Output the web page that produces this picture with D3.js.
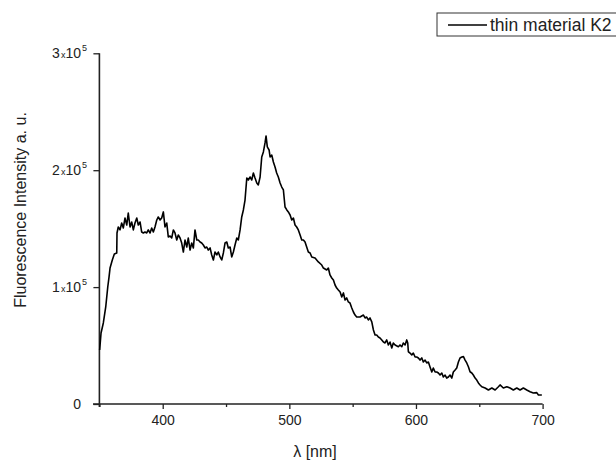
<!DOCTYPE html>
<html>
<head>
<meta charset="utf-8">
<script src="https://cdn.jsdelivr.net/npm/d3@7"></script>
<style>
body { margin: 0; background: #fff; }
svg { display: block; font-family: "Liberation Sans", Arial, sans-serif; }
</style>
</head>
<body>
<div class="chart"></div>
<script>
const WIDTH = 616;
const HEIGHT = 461;

const X0 = 99.4, X1 = 542.6;
const Y0 = 404, Y1 = 53.3;

// emission spectrum (wavelength in nm, intensity in 1e3 a.u.)
var wavelength = [350.2,351.3,353.1,355.0,356.6,357.6,358.4,360.2,361.8,363.7,
363.9,364.9,366.3,367.6,368.9,370.2,371.6,372.8,374.2,375.5,
376.8,378.1,379.5,380.7,382.1,383.4,384.7,386.0,387.4,388.6,
390.0,391.3,392.6,393.9,395.3,396.5,397.9,399.2,400.5,401.8,
403.2,404.4,405.8,407.1,408.4,409.7,411.1,412.3,413.7,415.0,
416.3,417.6,419.0,420.2,421.6,422.9,424.2,425.5,426.9,428.1,
429.5,430.8,432.1,433.4,434.8,436.0,437.4,438.7,440.0,441.3,
442.7,443.9,445.3,446.6,447.9,449.2,450.6,451.8,453.2,454.5,
455.8,457.1,458.5,459.7,461.1,462.4,463.7,465.0,466.4,467.6,
469.0,470.3,471.6,472.9,474.3,475.5,476.9,478.2,479.5,480.8,
481.6,482.6,484.0,484.8,486.1,487.4,488.7,490.0,491.3,492.7,
494.0,495.3,496.6,498.0,499.2,500.6,501.9,503.2,504.5,505.8,
507.1,508.5,509.8,511.1,512.4,513.7,515.0,516.4,517.7,520.3,
522.9,525.6,526.9,529.5,530.8,532.1,533.5,534.8,536.1,537.4,
538.7,540.1,541.4,542.7,544.0,545.3,546.6,547.9,549.3,550.6,
551.9,553.2,555.8,558.5,559.8,561.1,562.4,563.7,565.1,566.4,
567.7,569.0,570.3,571.6,573.0,574.3,575.6,576.9,578.2,579.5,
580.9,582.1,583.5,586.1,587.4,588.8,590.0,591.4,592.7,593.5,
594.0,595.3,596.7,597.9,599.3,600.6,601.9,603.2,604.6,605.8,
607.2,608.5,609.8,611.1,612.5,613.7,615.1,616.4,617.7,619.0,
620.4,621.6,623.0,624.3,625.6,626.9,628.3,629.5,630.9,632.2,
633.5,634.8,636.2,637.5,638.8,640.1,641.4,642.7,644.1,645.3,
646.7,648.0,649.3,650.6,652.0,654.6,657.2,659.9,662.5,665.1,
666.4,669.0,671.7,674.3,676.9,679.6,682.2,684.8,687.5,690.1,
692.7,695.4,696.7,699.4];

var intensityK = [46.2,60.7,69.3,83.0,100.1,108.6,116.3,123.2,128.3,129.2,
146.3,151.4,148.9,154.8,150.6,159.1,153.1,163.4,151.4,155.7,
148.9,154.8,159.1,153.1,155.7,147.1,146.3,147.1,146.3,148.9,
146.3,150.6,147.1,151.4,157.4,160.0,157.4,159.1,164.3,151.4,
154.8,142.9,143.7,142.0,148.9,146.3,140.3,144.6,142.0,137.7,
130.0,140.3,134.3,142.0,131.7,137.7,133.5,148.9,140.3,140.3,
138.6,137.7,136.0,133.5,134.3,131.7,133.5,127.5,123.2,130.0,
127.5,130.0,125.8,123.2,129.2,137.7,138.6,133.5,134.3,125.8,
130.0,136.0,142.0,140.3,148.9,160.0,166.0,174.5,193.3,191.6,
194.2,191.6,197.6,193.3,189.1,187.4,194.2,211.3,215.6,223.3,
229.3,219.9,217.3,211.3,213.0,207.0,202.8,197.6,194.2,189.1,
185.6,183.1,168.5,166.0,164.3,161.7,157.4,159.1,153.1,151.4,
148.9,144.6,140.3,140.3,138.6,134.3,130.0,129.2,125.8,124.9,
121.5,118.9,116.3,114.6,116.3,110.4,107.8,106.1,101.8,99.2,
97.5,95.8,91.5,95.0,89.0,90.7,87.3,86.4,82.1,78.7,
76.1,74.4,74.4,76.1,73.6,74.4,71.9,73.6,70.2,63.3,
59.0,59.0,57.3,56.5,54.8,53.0,52.2,54.8,50.5,53.0,
47.9,52.2,50.5,49.0,50.5,49.0,52.2,50.5,54.8,52.2,
44.7,43.6,41.9,43.6,40.2,40.2,39.4,37.6,39.4,35.9,
37.6,35.1,35.9,31.7,27.4,30.8,27.4,27.4,26.5,24.8,
26.5,23.1,24.8,22.2,23.1,24.8,22.2,27.4,29.1,30.8,
35.9,39.4,40.2,40.5,37.6,35.1,31.9,27.6,26.5,24.8,
22.2,20.5,18.0,16.3,14.8,13.7,12.0,13.7,12.0,14.8,
16.3,13.7,14.8,13.7,12.0,13.7,12.0,13.7,12.0,10.5,
9.4,9.7,7.7,7.7];

var xTicks = [400, 500, 600, 700];
var xMinorTicks = [350, 450, 550, 650];
var yTicks = [0, 100, 200, 300];
var yTickMantissa = ["0", "1", "2", "3"];
var seriesName = "thin material K2";

var translate = function (x, y) {
    return "translate(" + x + "," + y + ")";
};

var svg = d3.select('.chart').append('svg')
    .attr('width', WIDTH)
    .attr('height', HEIGHT);

var xScale = d3.scaleLinear().domain([350, 700]).range([X0, X1]);
var yScale = d3.scaleLinear().domain([0, 300]).range([Y0, Y1]);

var AXIS_COLOR = '#222';

// x axis
var gx = svg.append('g')
    .attr('transform', translate(0, Y0))
    .call(d3.axisBottom(xScale).tickValues(xTicks).tickSize(5).tickSizeOuter(0).tickPadding(6));
gx.select('.domain').remove();
gx.selectAll('line').attr('stroke', AXIS_COLOR).attr('stroke-width', 1.3);
gx.selectAll('text').attr('font-size', 14).attr('fill', AXIS_COLOR).attr('font-family', null);

var gxm = svg.append('g')
    .attr('transform', translate(0, Y0))
    .call(d3.axisBottom(xScale).tickValues(xMinorTicks).tickSize(3).tickFormat(''));
gxm.select('.domain').remove();
gxm.selectAll('line').attr('stroke', AXIS_COLOR).attr('stroke-width', 1.3);

svg.append('line')
    .attr('x1', 93).attr('x2', X1)
    .attr('y1', Y0).attr('y2', Y0)
    .attr('stroke', AXIS_COLOR).attr('stroke-width', 1.6);

// y axis
var gy = svg.append('g')
    .attr('transform', translate(X0, 0))
    .call(d3.axisLeft(yScale).tickValues(yTicks).tickSize(6).tickSizeOuter(0).tickFormat(''));
gy.select('.domain').remove();
gy.selectAll('line').attr('stroke', AXIS_COLOR).attr('stroke-width', 1.3);

svg.append('line')
    .attr('x1', X0).attr('x2', X0)
    .attr('y1', Y1).attr('y2', Y0 + 3)
    .attr('stroke', AXIS_COLOR).attr('stroke-width', 1.6);

yTicks.forEach(function (v, i) {
    var t = svg.append('text')
        .attr('y', yScale(v) + 5)
        .attr('text-anchor', 'end')
        .attr('font-size', 14)
        .attr('fill', AXIS_COLOR);
    if (v === 0) {
        t.attr('x', 81).text(yTickMantissa[i]);
        return;
    }
    t.attr('x', 87);
    t.append('tspan').text(yTickMantissa[i]);
    t.append('tspan').attr('font-size', 9).attr('dx', 1).text('x');
    t.append('tspan').text('10');
    t.append('tspan').attr('font-size', 9).attr('dy', -7).attr('dx', 1).text('5');
});

// axis titles
svg.append('text')
    .attr('x', 315).attr('y', 457)
    .attr('text-anchor', 'middle')
    .attr('font-size', 16)
    .attr('fill', AXIS_COLOR)
    .text('λ [nm]');

svg.append('text')
    .attr('transform', translate(26, 210) + ' rotate(-90)')
    .attr('text-anchor', 'middle')
    .attr('font-size', 16)
    .attr('fill', AXIS_COLOR)
    .text('Fluorescence Intensity a. u.');

// spectrum
var line = d3.line()
    .x(function (d, i) { return xScale(wavelength[i]); })
    .y(function (d) { return yScale(d); });

svg.append('path')
    .attr('d', line(intensityK))
    .attr('fill', 'none')
    .attr('stroke', '#000')
    .attr('stroke-width', 1.6)
    .attr('stroke-linejoin', 'round');

// legend
var lg = svg.append('g').attr('class', 'legend');
lg.append('rect')
    .attr('x', 437).attr('y', 13)
    .attr('width', 200).attr('height', 23)
    .attr('fill', 'none')
    .attr('stroke', '#333').attr('stroke-width', 1);
lg.append('line')
    .attr('x1', 448).attr('x2', 487)
    .attr('y1', 25).attr('y2', 25)
    .attr('stroke', '#000').attr('stroke-width', 1.4);
lg.append('text')
    .attr('x', 490).attr('y', 31)
    .attr('font-size', 17.5)
    .attr('fill', AXIS_COLOR)
    .text(seriesName);
</script>
</body>
</html>
